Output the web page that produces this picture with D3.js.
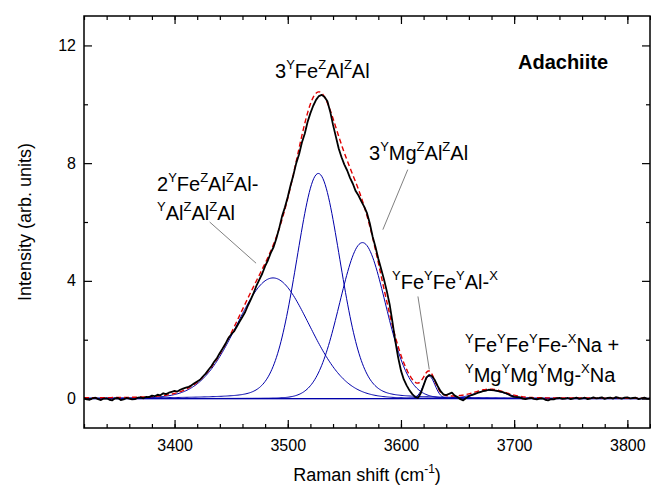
<!DOCTYPE html>
<html>
<head>
<meta charset="utf-8">
<script src="https://cdn.jsdelivr.net/npm/d3@7"></script>
<style>
  body { margin: 0; background: #fff; }
  svg { display: block; font-family: Arial, "Liberation Sans", sans-serif; }
</style>
</head>
<body>
<div id="chart"></div>
<script>
// observed spectrum, read every 2.5 cm-1
const shiftObs = d3.range(3320, 3820.1, 2.5);
const intensityObs = [
  0.02, -0.03, -0.04, 0.01, 0.03, -0.02, -0.05, 0.00, 0.01, -0.04,
  -0.06, 0.01, 0.02, -0.05, -0.03, 0.02, 0.00, -0.03, -0.02, 0.03,
  0.04, 0.01, 0.06, 0.05, 0.10, 0.08, 0.13, 0.11, 0.18, 0.15,
  0.20, 0.23, 0.26, 0.24, 0.30, 0.34, 0.37, 0.40, 0.45, 0.52,
  0.58, 0.64, 0.75, 0.85, 0.98, 1.10, 1.25, 1.38, 1.55, 1.70,
  1.86, 2.05, 2.18, 2.28, 2.45, 2.62, 2.78, 2.95, 3.18, 3.38,
  3.60, 3.85, 4.05, 4.25, 4.50, 4.70, 4.95, 5.15, 5.45, 5.80,
  6.20, 6.50, 6.85, 7.25, 7.60, 8.00, 8.30, 8.70, 9.00, 9.40,
  9.70, 9.95, 10.15, 10.28, 10.32, 10.25, 10.10, 9.75, 9.30, 8.90,
  8.50, 8.20, 7.95, 7.75, 7.50, 7.30, 7.05, 6.90, 6.70, 6.52,
  6.30, 5.95, 5.50, 5.15, 4.75, 4.40, 4.05, 3.65, 3.20, 2.60,
  1.95, 1.40, 0.95, 0.65, 0.45, 0.28, 0.15, 0.06, 0.02, 0.18,
  0.45, 0.72, 0.80, 0.76, 0.62, 0.42, 0.25, 0.14, 0.12, 0.16,
  0.20, 0.10, 0.05, -0.02, -0.06, 0.02, 0.08, 0.12, 0.15, 0.19,
  0.22, 0.25, 0.27, 0.30, 0.29, 0.28, 0.26, 0.24, 0.22, 0.18,
  0.14, 0.09, 0.06, 0.05, 0.04, 0.00, -0.02, 0.01, 0.02, -0.01,
  -0.03, 0.00, 0.01, -0.04, -0.06, -0.02, -0.03, 0.01, 0.02, -0.01,
  0.00, 0.02, -0.02, 0.01, 0.03, -0.01, 0.01, 0.03, -0.02, 0.01,
  0.04, 0.01, 0.02, 0.04, -0.01, 0.02, 0.03, 0.00, 0.05, 0.02,
  0.00, 0.03, 0.04, 0.01, 0.02, 0.03, -0.02, 0.01, 0.03, 0.00, 0.00
];

// fitted band parameters (pseudo-Voigt)
const peakCenters = [3487, 3527, 3566, 3625, 3679];
const peakHeights = [4.10, 7.65, 5.30, 0.76, 0.28];
const peakFwhm    = [76, 46, 48, 12, 32];
const peakLorentz = [0.05, 0.15, 0.03, 0.05, 0.05];

const xTicks = [3400, 3500, 3600, 3700, 3800];
const yTicks = [0, 4, 8, 12];

const width = 651, height = 490;
const margin = {top: 16, left: 84, bottom: 62, right: 1};

const svg = d3.select("#chart").append("svg")
              .attr("width", width)
              .attr("height", height);

const x = d3.scaleLinear()
            .domain([3320, 3820])
            .range([margin.left, width - margin.right]);
const y = d3.scaleLinear()
            .domain([-1, 13])
            .range([height - margin.bottom, margin.top]);

const pv = (w, i) => {
    const hw = peakFwhm[i] / 2;
    const d = (w - peakCenters[i]) / hw;
    const g = Math.exp(-Math.LN2 * d * d);
    const l = 1 / (1 + d * d);
    return peakHeights[i] * ((1 - peakLorentz[i]) * g + peakLorentz[i] * l);
};

const grid = d3.range(3320, 3820.5, 1);
const line = d3.line().x(d => x(d[0])).y(d => y(d[1]));

const plot = svg.append("g");
plot.append("clipPath").attr("id", "clip")
    .append("rect")
    .attr("x", x.range()[0]).attr("y", y.range()[1])
    .attr("width", x.range()[1] - x.range()[0])
    .attr("height", y.range()[0] - y.range()[1]);
const inner = plot.append("g").attr("clip-path", "url(#clip)");

// baseline + components
inner.append("path")
    .attr("d", line([[3320, 0], [3820, 0]]))
    .attr("fill", "none").attr("stroke", "#0000aa").attr("stroke-width", 1.2);

inner.append("g")
    .selectAll("path")
    .data(peakCenters.map((c, i) => i))
    .join("path")
    .attr("d", i => line(grid.map(w => [w, pv(w, i)])))
    .attr("fill", "none")
    .attr("stroke", "#0000aa")
    .attr("stroke-width", 1);

// fit
inner.append("path")
    .attr("d", line(grid.map(w => [w, d3.sum(peakCenters, (c, i) => pv(w, i))])))
    .attr("fill", "none")
    .attr("stroke", "#e00000")
    .attr("stroke-width", 1.4)
    .attr("stroke-dasharray", "5,3");

// observed
inner.append("path")
    .attr("d", line(shiftObs.map((w, i) => [w, intensityObs[i]])))
    .attr("fill", "none")
    .attr("stroke", "#000")
    .attr("stroke-width", 1.8)
    .attr("stroke-linejoin", "round");

// axes, ticks inward
const x0 = y.range()[0], x1 = y.range()[1];
const minorX = d3.range(3320, 3821, 20);
const minorY = d3.range(-1, 13.1, 1).filter(v => v % 2 === 0 && v % 4 !== 0);

const axisStyle = g => {
    g.select(".domain").remove();
    g.selectAll("line").attr("stroke", "#000").attr("stroke-width", 1.2);
    g.selectAll("text").attr("font-size", 16).attr("fill", "#000");
};

svg.append("g").attr("transform", `translate(0,${x0})`)
   .call(d3.axisBottom(x).tickValues(minorX).tickSize(-4).tickFormat(""))
   .call(axisStyle);
svg.append("g").attr("transform", `translate(0,${x0})`)
   .call(d3.axisBottom(x).tickValues(xTicks).tickSize(-8).tickPadding(12).tickFormat(d3.format("d")))
   .call(axisStyle);
svg.append("g").attr("transform", `translate(0,${x1})`)
   .call(d3.axisTop(x).tickValues(minorX).tickSize(-4).tickFormat(""))
   .call(axisStyle);
svg.append("g").attr("transform", `translate(0,${x1})`)
   .call(d3.axisTop(x).tickValues(xTicks).tickSize(-8).tickFormat(""))
   .call(axisStyle);

svg.append("g").attr("transform", `translate(${x.range()[0]},0)`)
   .call(d3.axisLeft(y).tickValues(minorY).tickSize(-4).tickFormat(""))
   .call(axisStyle);
svg.append("g").attr("transform", `translate(${x.range()[0]},0)`)
   .call(d3.axisLeft(y).tickValues(yTicks).tickSize(-8).tickPadding(8))
   .call(axisStyle);
svg.append("g").attr("transform", `translate(${x.range()[1]},0)`)
   .call(d3.axisRight(y).tickValues(minorY).tickSize(-4).tickFormat(""))
   .call(axisStyle);
svg.append("g").attr("transform", `translate(${x.range()[1]},0)`)
   .call(d3.axisRight(y).tickValues(yTicks).tickSize(-8).tickFormat(""))
   .call(axisStyle);

svg.append("rect")
   .attr("x", x.range()[0]).attr("y", y.range()[1])
   .attr("width", x.range()[1] - x.range()[0])
   .attr("height", y.range()[0] - y.range()[1])
   .attr("fill", "none").attr("stroke", "#000").attr("stroke-width", 1.5);

// axis titles
const xt = svg.append("text")
   .attr("x", (x.range()[0] + x.range()[1]) / 2).attr("y", 481)
   .attr("text-anchor", "middle").attr("font-size", 18);
xt.append("tspan").text("Raman shift (cm");
xt.append("tspan").attr("font-size", 12).attr("dy", -8).text("-1");
xt.append("tspan").attr("dy", 8).text(")");

svg.append("text")
   .attr("transform", `translate(31,${(y.range()[0] + y.range()[1]) / 2}) rotate(-90)`)
   .attr("text-anchor", "middle").attr("font-size", 18)
   .text("Intensity (arb. units)");

// band labels: parts as [text, isSuperscript]
const labels = [
    {x: 157, y: 191, parts: [["2", 0], ["Y", 1], ["Fe", 0], ["Z", 1], ["Al", 0], ["Z", 1], ["Al-", 0]]},
    {x: 157, y: 220, parts: [["Y", 1], ["Al", 0], ["Z", 1], ["Al", 0], ["Z", 1], ["Al", 0]]},
    {x: 275, y: 78, parts: [["3", 0], ["Y", 1], ["Fe", 0], ["Z", 1], ["Al", 0], ["Z", 1], ["Al", 0]]},
    {x: 369, y: 160, parts: [["3", 0], ["Y", 1], ["Mg", 0], ["Z", 1], ["Al", 0], ["Z", 1], ["Al", 0]]},
    {x: 392, y: 289, parts: [["Y", 1], ["Fe", 0], ["Y", 1], ["Fe", 0], ["Y", 1], ["Al-", 0], ["X", 1]]},
    {x: 465, y: 352, parts: [["Y", 1], ["Fe", 0], ["Y", 1], ["Fe", 0], ["Y", 1], ["Fe-", 0], ["X", 1], ["Na +", 0]]},
    {x: 465, y: 382, parts: [["Y", 1], ["Mg", 0], ["Y", 1], ["Mg", 0], ["Y", 1], ["Mg-", 0], ["X", 1], ["Na", 0]]}
];

labels.forEach(lb => {
    const t = svg.append("text").attr("x", lb.x).attr("y", lb.y)
                 .attr("font-size", 20).attr("fill", "#000")
                 .style("white-space", "pre");
    let up = false;
    lb.parts.forEach(([s, sup]) => {
        const ts = t.append("tspan").text(s);
        if (sup && !up) { ts.attr("dy", -9); up = true; }
        else if (!sup && up) { ts.attr("dy", 9); up = false; }
        if (sup) ts.attr("font-size", 13);
    });
});

svg.append("text")
   .attr("x", 518).attr("y", 69)
   .attr("font-size", 20).attr("font-weight", "bold")
   .text("Adachiite");

// leader lines
const leaders = [
    [[3431, 6.0], [3472, 4.6]],
    [[3606, 7.78], [3584, 5.74]],
    [[3615, 3.47], [3625, 0.99]]
];
svg.append("g")
   .selectAll("line")
   .data(leaders)
   .join("line")
   .attr("x1", d => x(d[0][0])).attr("y1", d => y(d[0][1]))
   .attr("x2", d => x(d[1][0])).attr("y2", d => y(d[1][1]))
   .attr("stroke", "#808080").attr("stroke-width", 1);
</script>
</body>
</html>
